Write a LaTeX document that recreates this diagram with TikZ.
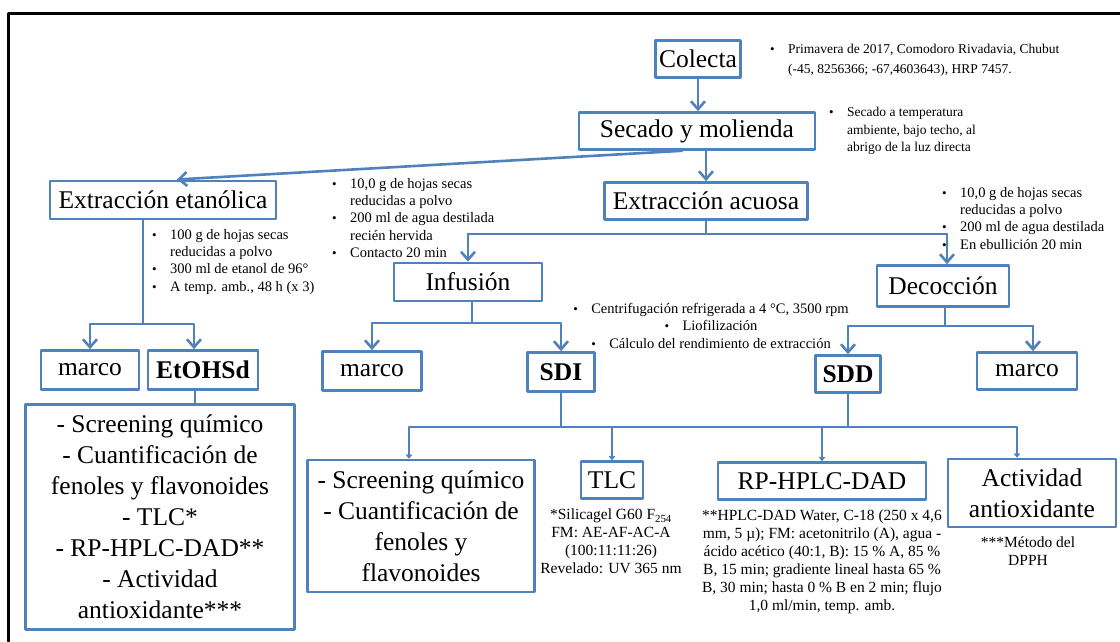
\documentclass[tikz,border=0pt]{standalone}
\usepackage{fontspec}
\setmainfont{Liberation Serif}
\usetikzlibrary{arrows.meta}
\definecolor{flowblue}{RGB}{79,129,189}
\newcommand{\bul}{\makebox[18pt][l]{\fontsize{13}{13}\selectfont\textbullet}}
\newcommand{\ind}{\hspace*{18pt}}
\tikzset{
    box/.style={
        draw=flowblue, line width=2.6pt, fill=white, inner sep=2pt, align=center,
        font=\fontsize{25.5}{31}\selectfont
    },
    boldbox/.style={box, font=\fontsize{25.5}{31}\selectfont\bfseries},
    note/.style={
        anchor=north west, inner sep=0pt, align=left,
        font=\fontsize{14.5}{17.3}\selectfont
    },
    captext/.style={
        anchor=north, inner sep=0pt, align=center,
        font=\fontsize{15.5}{18}\selectfont
    },
    arr/.style={draw=flowblue, line width=2.6pt, -{Straight Barb[length=8pt,width=14pt]}},
    link/.style={draw=flowblue, line width=1.5pt},
    tip/.style={link, -{Straight Barb[length=3pt,width=5pt]}}
}

\begin{document}
\begin{tikzpicture}[x=1pt, y=-1pt, line cap=round, line join=round]
\useasboundingbox (0,0) rectangle (1120,641);

% frame (cut at right and bottom)
    \draw[line width=3pt] (8,641) -- (8,13) -- (1120,13);

% --- main chain ---
    \node[box, minimum width=85, minimum height=37] (colecta) at (698,59) {Colecta};
    \node[box, minimum width=236, minimum height=37] (secado) at (697,131) {Secado y molienda};
    \node[box, minimum width=226, minimum height=38] (etan) at (163,200) {Extracción etanólica};
    \node[box, minimum width=203, minimum height=37] (acuosa) at (706,201) {Extracción acuosa};
    \node[box, minimum width=148, minimum height=38] (infusion) at (468,282) {Infusión};
    \node[box, minimum width=132, minimum height=41] (decoc) at (943,286) {Decocción};

% --- residues and dry extracts ---
    \node[box, minimum width=98, minimum height=39] (marcoE) at (90,370) {marco};
    \node[boldbox, minimum width=110, minimum height=39] (etohsd) at (203,370) {EtOHSd};
    \node[box, minimum width=99, minimum height=39] (marcoI) at (372,371) {marco};
    \node[boldbox, minimum width=67, minimum height=39] (sdi) at (561,372) {SDI};
    \node[boldbox, minimum width=65, minimum height=37] (sdd) at (848,374) {SDD};
    \node[box, minimum width=100, minimum height=37] (marcoD) at (1027,371) {marco};

% --- analyses ---
    \node[box, minimum width=269, minimum height=225] (ensayoE) at (160,517)
        {- Screening químico\\- Cuantificación de\\fenoles y flavonoides\\- TLC*\\- RP-HPLC-DAD**\\- Actividad\\antioxidante***};
    \node[box, minimum width=227, minimum height=132] (ensayoS) at (421,526)
        {- Screening químico\\- Cuantificación de\\fenoles y\\flavonoides};
    \node[box, minimum width=62, minimum height=37] (tlc) at (612,480) {TLC};
    \node[box, minimum width=208, minimum height=37] (hplc) at (822,481) {RP-HPLC-DAD};
    \node[box, minimum width=168, minimum height=68] (antiox) at (1032,493) {Actividad\\antioxidante};

% --- notes ---
    \node[note, font=\fontsize{13.5}{20}\selectfont] (colectanota) at (770,44)
        {\bul Primavera de 2017, Comodoro Rivadavia, Chubut\\\ind(-45, 8256366; -67,4603643), HRP 7457.};
    \node[note, font=\fontsize{13.5}{17.5}\selectfont] (secadonota) at (829,107)
        {\bul Secado a temperatura\\\ind ambiente, bajo techo, al\\\ind abrigo de la luz directa};
    \node[note] (etannota) at (152,229)
        {\bul 100 g de hojas secas\\\ind reducidas a polvo\\\bul 300 ml de etanol de 96°\\\bul A temp. amb., 48 h (x 3)};
    \node[note] (infnota) at (332,178)
        {\bul 10,0 g de hojas secas\\\ind reducidas a polvo\\\bul 200 ml de agua destilada\\\ind recién hervida\\\bul Contacto 20 min};
    \node[note] (decnota) at (942,187)
        {\bul 10,0 g de hojas secas\\\ind reducidas a polvo\\\bul 200 ml de agua destilada\\\bul En ebullición 20 min};
    \node[note, anchor=north, align=center] (secnota) at (711,303)
        {\bul Centrifugación refrigerada a 4 °C, 3500 rpm\\\bul Liofilización\\\bul Cálculo del rendimiento de extracción};

% --- captions ---
    \node[captext] (tlccap) at (611,509)
        {*Silicagel G60 F\textsubscript{254}\\FM: AE-AF-AC-A\\(100:11:11:26)\\Revelado: UV 365 nm};
    \node[captext] (hplccap) at (822,510)
        {**HPLC-DAD Water, C-18 (250 x 4,6\\mm, 5 µ); FM: acetonitrilo (A), agua -\\ácido acético (40:1, B): 15 \% A, 85 \%\\B, 15 min; gradiente lineal hasta 65 \%\\B, 30 min; hasta 0 \% B en 2 min; flujo\\1,0 ml/min, temp. amb.};
    \node[captext] (antioxcap) at (1028,537) {***Método del\\DPPH};

% --- connectors, upper part ---
    \draw[arr] (colecta.south) -- (colecta.south |- secado.north);
    \draw[arr, shorten >=4pt] ([xshift=-15]secado.south) -- ([xshift=10]etan.north);
    \draw[arr] (acuosa.north |- secado.south) -- (acuosa.north);

    \coordinate (etanfork) at (143,324);
    \coordinate (etohsdin) at ([xshift=-9]etohsd.north);
    \draw[link] (etanfork |- etan.south) -- (etanfork);
    \draw[arr] (etanfork) -| (marcoE.north);
    \draw[arr] (etanfork) -| (etohsdin);

    \coordinate (acuofork) at (706,234);
    \coordinate (decocin) at ([xshift=4]decoc.north);
    \draw[link] (acuosa.south) -- (acuofork);
    \draw[link] (infusion.north |- acuofork) -- (decocin |- acuofork);
    \draw[arr] (infusion.north |- acuofork) -- (infusion.north);
    \draw[arr] (decocin |- acuofork) -- (decocin);

    \coordinate (inffork) at (472,323);
    \draw[link] (infusion.south -| inffork) -- (inffork);
    \draw[arr] (inffork) -| (marcoI.north);
    \draw[arr] (inffork) -| (sdi.north);

    \coordinate (decfork) at (945,326);
    \coordinate (marcoDin) at ([xshift=6]marcoD.north);
    \draw[link] (decoc.south -| decfork) -- (decfork);
    \draw[link] (sdd.north |- decfork) -- (marcoDin |- decfork);
    \draw[arr] (sdd.north |- decfork) -- (sdd.north);
    \draw[arr] (marcoDin |- decfork) -- (marcoDin);

% --- connectors, lower part ---
    \coordinate (etohsdout) at ([xshift=-8]etohsd.south);
    \draw[link] (etohsdout) -- (etohsdout |- ensayoE.north);

    \coordinate (sdfork) at (563,427);
    \coordinate (ensayoSin) at ([xshift=-12]ensayoS.north);
    \coordinate (antioxin) at ([xshift=-15]antiox.north);
    \draw[link] (sdi.south) -- (sdi.south |- sdfork);
    \draw[link] (sdd.south) -- (sdd.south |- sdfork);
    \draw[link] (ensayoSin |- sdfork) -- (antioxin |- sdfork);
    \draw[tip] (ensayoSin |- sdfork) -- (ensayoSin);
    \draw[tip] (tlc.north |- sdfork) -- (tlc.north);
    \draw[tip] (hplc.north |- sdfork) -- (hplc.north);
    \draw[tip] (antioxin |- sdfork) -- (antioxin);

\end{tikzpicture}
\end{document}
